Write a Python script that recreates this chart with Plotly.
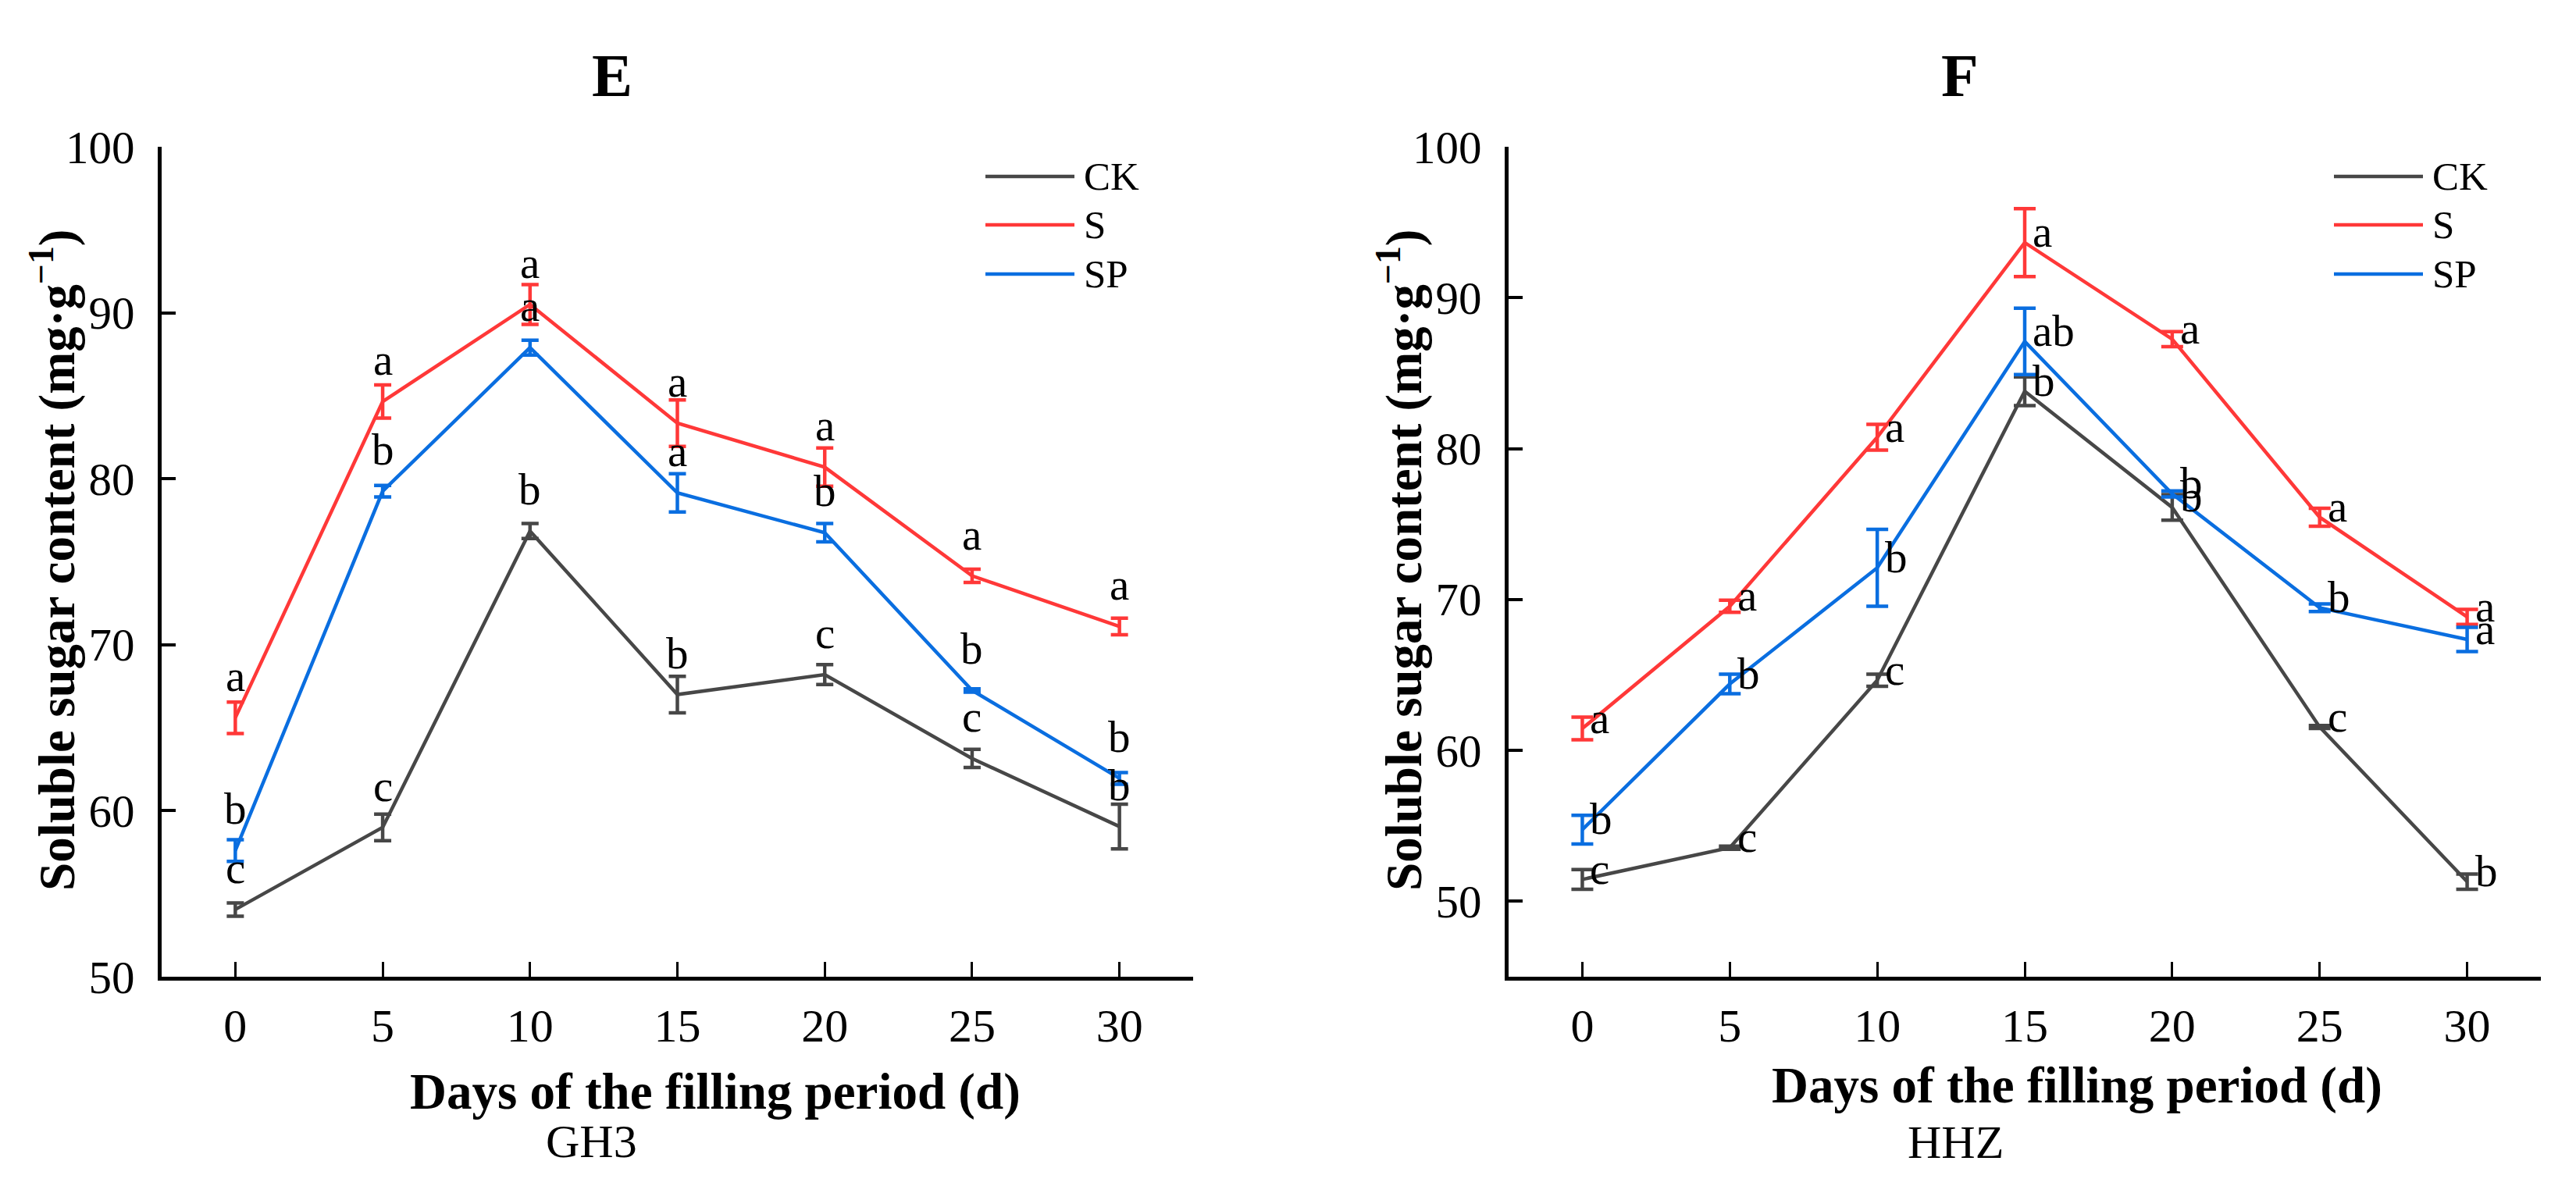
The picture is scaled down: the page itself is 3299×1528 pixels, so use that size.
import plotly.graph_objects as go

# ---------------- data ----------------
days = [0, 5, 10, 15, 20, 25, 30]
x_tick_labels = ["0", "5", "10", "15", "20", "25", "30"]
y_ticks = [50, 60, 70, 80, 90, 100]
series_names = ["CK", "S", "SP"]

gh3_ck = [54.05, 59.0, 76.85, 67.0, 68.2, 63.15, 59.05]
gh3_ck_err = [0.4, 0.8, 0.45, 1.1, 0.6, 0.55, 1.35]
gh3_s = [65.6, 84.65, 90.5, 83.35, 80.7, 74.15, 71.1]
gh3_s_err = [0.95, 1.0, 1.2, 1.4, 1.15, 0.4, 0.5]
gh3_sp = [57.6, 79.25, 87.9, 79.15, 76.75, 67.25, 61.95]
gh3_sp_err = [0.65, 0.35, 0.45, 1.15, 0.55, 0.1, 0.35]

gh3_ck_letters = ["c", "c", "b", "b", "c", "c", "b"]
gh3_s_letters = ["a", "a", "a", "a", "a", "a", "a"]
gh3_sp_letters = ["b", "b", "a", "a", "b", "b", "b"]

hhz_ck = [51.45, 53.55, 64.65, 83.8, 76.1, 61.55, 51.3]
hhz_ck_err = [0.65, 0.1, 0.4, 0.95, 0.85, 0.1, 0.5]
hhz_s = [61.45, 69.55, 80.75, 93.65, 87.25, 75.45, 68.85]
hhz_s_err = [0.75, 0.4, 0.85, 2.25, 0.5, 0.6, 0.5]
hhz_sp = [54.75, 64.4, 72.1, 87.1, 77.0, 69.45, 67.35]
hhz_sp_err = [0.95, 0.65, 2.55, 2.2, 0.2, 0.25, 0.8]

hhz_ck_letters = ["c", "c", "c", "b", "b", "c", "b"]
hhz_s_letters = ["a", "a", "a", "a", "a", "a", "a"]
hhz_sp_letters = ["b", "b", "b", "ab", "b", "b", "a"]

# ---------------- style ----------------
W, H = 3299, 1528
FONT = "Liberation Serif"
colors = {"CK": "#474747", "S": "#ff3838", "SP": "#0a6ee0"}


def px_x(p):
    return p / W


def px_y(p):
    return 1 - p / H


fig = go.Figure()

panels = [
    dict(xa="x", ya="y", cap=11,
         data=[("CK", gh3_ck, gh3_ck_err, gh3_ck_letters),
               ("S", gh3_s, gh3_s_err, gh3_s_letters),
               ("SP", gh3_sp, gh3_sp_err, gh3_sp_letters)]),
    dict(xa="x2", ya="y2", cap=14,
         data=[("CK", hhz_ck, hhz_ck_err, hhz_ck_letters),
               ("S", hhz_s, hhz_s_err, hhz_s_letters),
               ("SP", hhz_sp, hhz_sp_err, hhz_sp_letters)]),
]

annotations = []
for pi, p in enumerate(panels):
    for name, vals, errs, lets in p["data"]:
        fig.add_trace(go.Scatter(
            x=days, y=vals, mode="lines", name=name, showlegend=False,
            xaxis=p["xa"], yaxis=p["ya"],
            line=dict(color=colors[name], width=4.5),
            error_y=dict(type="data", array=errs, visible=True,
                         color=colors[name], thickness=4.5, width=p["cap"]),
        ))
        for d, v, l in zip(days, vals, lets):
            if pi == 0:
                annotations.append(dict(
                    x=d, y=v, xref=p["xa"], yref=p["ya"], text=l, showarrow=False,
                    xanchor="center", yanchor="bottom", yshift=20,
                    font=dict(family=FONT, size=57, color="black")))
            else:
                annotations.append(dict(
                    x=d, y=v, xref=p["xa"], yref=p["ya"], text=l, showarrow=False,
                    xanchor="left", yanchor="middle", xshift=8, yshift=14,
                    font=dict(family=FONT, size=57, color="black")))

# legends (drawn manually)
shapes = []
for off in [0, 1727]:
    for name, yy in zip(series_names, [226, 288, 351]):
        shapes.append(dict(type="line", xref="paper", yref="paper",
                           x0=px_x(1262 + off), x1=px_x(1376 + off),
                           y0=px_y(yy), y1=px_y(yy),
                           line=dict(color=colors[name], width=4.5)))
        annotations.append(dict(x=px_x(1386 + off), y=px_y(yy), xref="paper", yref="paper",
                                text=name, showarrow=False, xanchor="left", yanchor="middle",
                                font=dict(family=FONT, size=51, color="black")))

# titles
texts = [
    ("<b>E</b>", 784, 97, 78, 0),
    ("<b>F</b>", 2510, 97, 78, 0),
    ("<b>Days of the filling period (d)</b>", 916, 1398, 65, 0),
    ("<b>Days of the filling period (d)</b>", 2660, 1390, 65, 0),
    ("GH3", 757, 1462, 60, 0),
    ("HHZ", 2504, 1463, 60, 0),
    ("<b>Soluble sugar content (mg·g<sup>−1</sup>)</b>", 68, 718, 65, -90),
    ("<b>Soluble sugar content (mg·g<sup>−1</sup>)</b>", 1793, 718, 65, -90),
]
for t, x, y, s, ang in texts:
    annotations.append(dict(x=px_x(x), y=px_y(y), xref="paper", yref="paper", text=t,
                            showarrow=False, xanchor="center", yanchor="middle",
                            textangle=ang, font=dict(family=FONT, size=s, color="black")))

xaxis_common = dict(range=[-2.5, 32.5], tickmode="array", tickvals=days, ticktext=x_tick_labels,
                    ticks="inside", ticklen=19, tickwidth=3, tickcolor="black",
                    showline=True, linewidth=5, linecolor="black",
                    showgrid=False, zeroline=False, automargin=False,
                    tickfont=dict(family=FONT, size=60, color="black"),
                    ticklabelstandoff=6, fixedrange=True)
yaxis_common = dict(tickmode="array", tickvals=y_ticks,
                    ticks="inside", ticklen=18, tickwidth=3.5, tickcolor="black",
                    showline=True, linewidth=4.5, linecolor="black",
                    showgrid=False, zeroline=False, automargin=False,
                    tickfont=dict(family=FONT, size=59, color="black"),
                    ticklabelstandoff=18, fixedrange=True)

ydom = [(H - 1251) / H, (H - 188) / H]
fig.update_layout(
    template="none",
    width=W, height=H, autosize=False,
    margin=dict(l=0, r=0, t=0, b=0, pad=0, autoexpand=False),
    paper_bgcolor="white", plot_bgcolor="white",
    xaxis=dict(domain=[207 / W, 1528 / W], anchor="y", **xaxis_common),
    yaxis=dict(domain=ydom, anchor="x", range=[50, 100], **yaxis_common),
    xaxis2=dict(domain=[1932 / W, 3254 / W], anchor="y2", **xaxis_common),
    yaxis2=dict(domain=ydom, anchor="x2", range=[45, 100], **yaxis_common),
    shapes=shapes,
    annotations=annotations,
    showlegend=False,
)

fig.write_html("out.html", config={"displayModeBar": False},
               post_script="document.body.style.margin='0';document.body.style.overflow='hidden';")
